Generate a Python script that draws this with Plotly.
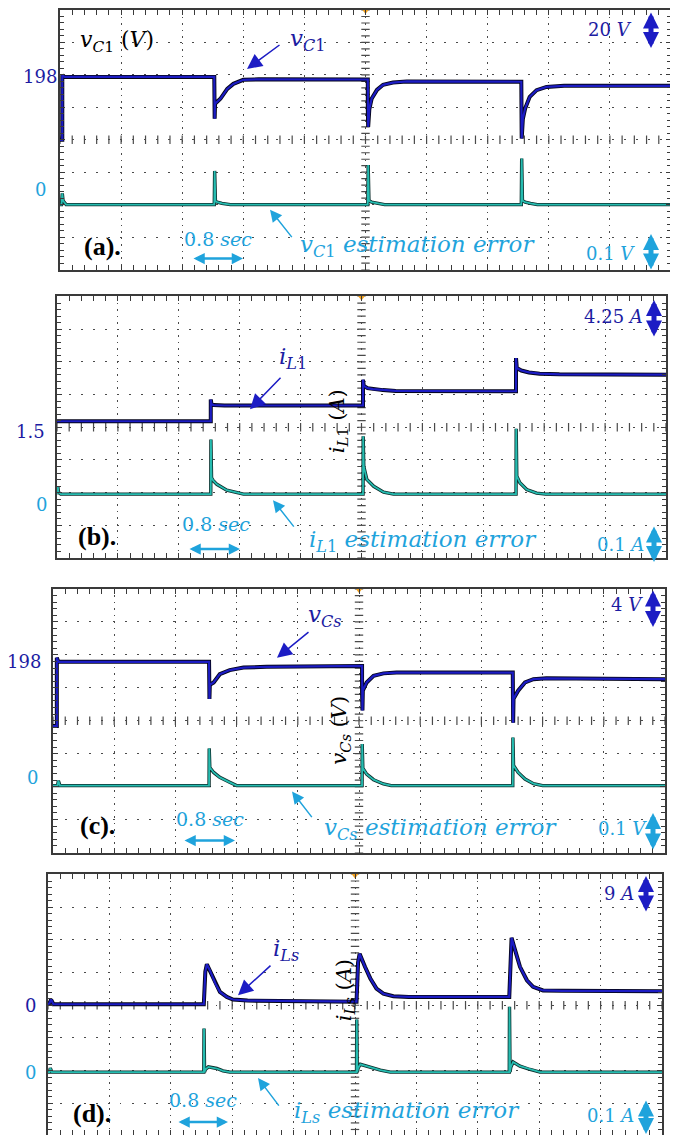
import plotly.graph_objects as go

OFF = 8            # page body margin of the browser
W, H = 678 - OFF, 1135 - OFF

# ---------------- data (time in s) ----------------
# (a) v_C1 [V] and its estimation error [V]
t_vc1 = [0.0, 0.03, 0.03, 0.06, 2.02, 2.02, 2.025, 2.03, 2.10, 2.19, 2.27, 2.40, 2.60,
         4.03, 4.03, 4.035, 4.05, 4.08, 4.15, 4.23, 4.36, 4.54,
         6.04, 6.04, 6.045, 6.06, 6.09, 6.15, 6.24, 6.37, 6.60, 8.0]
vc1 = [159.2, 159.2, 199.0, 198.0, 198.0, 182.6, 172.2, 181.5, 184.5, 190.6, 193.7, 196.2, 196.5,
       196.4, 178.3, 167.2, 178.0, 184.5, 190.0, 193.1, 194.5, 195.2,
       195.0, 172.3, 160.0, 172.0, 178.5, 185.7, 189.8, 191.8, 192.5, 192.5]
t_vc1_err = [0.0, 0.02, 0.03, 0.04, 0.08, 2.02, 2.025, 2.035, 2.06, 2.12, 2.23,
             4.03, 4.035, 4.045, 4.08, 4.15, 4.25, 6.04, 6.045, 6.055, 6.09, 6.16, 6.25, 8.0]
vc1_err = [0.0, 0.0, 0.035, 0.012, 0.0, 0.0, 0.104, 0.01, 0.008, 0.004, 0.0,
           0.0, 0.122, 0.012, 0.008, 0.004, 0.0, 0.0, 0.142, 0.012, 0.008, 0.004, 0.0, 0.0]

# (b) i_L1 [A] and its estimation error [A]
t_il1 = [0.0, 2.02, 2.02, 2.03, 2.06, 2.20, 4.02, 4.02, 4.03, 4.08, 4.15, 4.28, 4.45,
         6.03, 6.03, 6.04, 6.10, 6.20, 6.34, 6.60, 8.0]
il1 = [1.5, 1.5, 4.32, 3.70, 3.60, 3.55, 3.55, 6.91, 6.10, 5.80, 5.68, 5.55, 5.45,
       5.40, 9.71, 8.42, 8.10, 7.85, 7.69, 7.60, 7.56]
t_il1_err = [0.0, 0.01, 0.02, 0.05, 2.02, 2.022, 2.03, 2.05, 2.10, 2.23, 2.36, 2.45,
             4.02, 4.022, 4.03, 4.07, 4.16, 4.29, 4.42,
             6.03, 6.032, 6.04, 6.08, 6.17, 6.30, 6.42, 8.0]
il1_err = [0.0, 0.024, 0.005, 0.0, 0.0, 0.167, 0.05, 0.042, 0.03, 0.012, 0.004, 0.0,
           0.0, 0.177, 0.085, 0.045, 0.024, 0.006, 0.0,
           0.0, 0.200, 0.055, 0.035, 0.014, 0.003, 0.0, 0.0]

# (c) v_Cs [V] and its estimation error [V]
t_vcs = [0.0, 0.05, 0.05, 0.07, 2.04, 2.04, 2.045, 2.05, 2.10, 2.18, 2.31, 2.49, 2.79,
         4.04, 4.04, 4.045, 4.05, 4.10, 4.19, 4.32, 4.49,
         6.01, 6.01, 6.015, 6.02, 6.08, 6.17, 6.28, 6.45, 8.0]
vcs = [190.2, 190.2, 198.5, 198.0, 198.0, 195.3, 193.5, 195.2, 195.5, 196.5, 197.0, 197.3, 197.4,
       197.5, 194.3, 192.1, 194.5, 195.5, 196.3, 196.6, 196.7,
       196.7, 192.9, 190.6, 193.5, 194.5, 195.5, 195.9, 196.0, 195.9]
t_vcs_err = [0.0, 0.06, 0.07, 0.09, 2.04, 2.042, 2.05, 2.10, 2.18, 2.31, 2.40,
             4.04, 4.042, 4.05, 4.10, 4.19, 4.32, 4.42,
             6.01, 6.012, 6.02, 6.08, 6.17, 6.28, 6.40, 8.0]
vcs_err = [0.0, 0.0, 0.015, 0.0, 0.0, 0.113, 0.055, 0.04, 0.025, 0.01, 0.0,
           0.0, 0.126, 0.053, 0.035, 0.018, 0.005, 0.0,
           0.0, 0.146, 0.061, 0.04, 0.02, 0.006, 0.0, 0.0]

# (d) i_Ls [A] and its estimation error [A]
t_ils = [0.0, 0.02, 0.04, 0.07, 2.03, 2.05, 2.07, 2.11, 2.18, 2.24, 2.33, 2.41, 2.60,
         4.02, 4.04, 4.06, 4.13, 4.20, 4.28, 4.37, 4.50, 4.70,
         6.01, 6.03, 6.04, 6.08, 6.15, 6.24, 6.32, 6.45, 6.70, 8.0]
ils = [0.0, 0.3, 1.3, 0.0, 0.0, 9.0, 11.0, 9.3, 5.7, 3.4, 2.0, 1.3, 1.0,
       0.7, 11.5, 13.9, 10.3, 7.1, 4.3, 2.9, 2.2, 2.0,
       2.0, 16.0, 18.3, 15.3, 10.3, 6.6, 4.8, 3.8, 3.7, 3.6]
t_ils_err = [0.0, 0.02, 0.03, 0.05, 2.03, 2.033, 2.04, 2.05, 2.09, 2.20, 2.28, 2.37,
             4.02, 4.023, 4.03, 4.04, 4.07, 4.20, 4.33, 4.46,
             6.01, 6.013, 6.02, 6.03, 6.06, 6.15, 6.28, 6.41, 8.0]
ils_err = [0.0, 0.0, 0.012, 0.0, 0.0, 0.133, 0.0, 0.008, 0.016, 0.011, 0.004, 0.0,
           0.0, 0.161, 0.0, 0.012, 0.024, 0.014, 0.006, 0.0,
           0.0, 0.200, 0.0, 0.015, 0.031, 0.018, 0.008, 0.0, 0.0]

# ---------------- styling ----------------
NAVY = '#1c1cc4'
NAVY_TXT = '#1c1ca2'
TEAL = '#25bcb0'
LBLUE = '#1fa3dc'
FRAME = '#3a3a3a'
GRID = '#4a4a4a'
SERIF = 'DejaVu Serif'
TIMES = 'Liberation Serif'

T_DIV = 0.8  # s per division

panels = [
    dict(frame=(60, 671, 8, 268, 268), ref=(198, 75), per=20, eref=203, eper=0.1,
         t=t_vc1, y=vc1, te=t_vc1_err, ye=vc1_err),
    dict(frame=(57, 666, 295, 557, 557), ref=(1.5, 420), per=4.25, eref=493, eper=0.1,
         t=t_il1, y=il1, te=t_il1_err, ye=il1_err),
    dict(frame=(53, 665, 588, 852, 852), ref=(198, 661), per=4, eref=785, eper=0.1,
         t=t_vcs, y=vcs, te=t_vcs_err, ye=vcs_err),
    dict(frame=(48, 662, 874, 1136, 1135), ref=(0, 1004), per=9, eref=1072, eper=0.1,
         t=t_ils, y=ils, te=t_ils_err, ye=ils_err),
]


def fx(px):
    return (px - OFF) / W


def fy(py):
    return 1 - (py - OFF) / H


fig = go.Figure()
layout = dict(width=W, height=H, margin=dict(l=0, r=0, t=0, b=0),
              paper_bgcolor='white', plot_bgcolor='white', showlegend=False)


def rng(ref_val, ref_px, per, div_px, top_px, bot_px):
    top = ref_val + (ref_px - top_px) / div_px * per
    bot = ref_val - (bot_px - ref_px) / div_px * per
    return bot, top


for i, p in enumerate(panels):
    x0, x1, ytop, ybot_nom, ybot = p['frame']
    div_px = (ybot_nom - ytop) / 8.0
    xid = 'x' if i == 0 else 'x%d' % (i + 1)
    ynav = 'y' if i == 0 else 'y%d' % (2 * i + 1)
    yerr = 'y%d' % (2 * i + 2)
    xkey = 'xaxis' if i == 0 else 'xaxis%d' % (i + 1)
    ynkey = 'yaxis' if i == 0 else 'yaxis%d' % (2 * i + 1)
    yekey = 'yaxis%d' % (2 * i + 2)

    nb, nt = rng(p['ref'][0], p['ref'][1], p['per'], div_px, ytop, ybot)
    eb, et = rng(0.0, p['eref'], p['eper'], div_px, ytop, ybot)

    layout[xkey] = dict(domain=[max(0, fx(x0)), min(1, fx(x1))], range=[0, 10 * T_DIV], anchor=ynav,
                        tick0=0, dtick=T_DIV, showgrid=True, gridcolor=GRID, gridwidth=1,
                        griddash='1.5px,5px', showticklabels=False, ticks='inside',
                        ticklen=5, tickcolor=FRAME, tickwidth=1,
                        minor=dict(dtick=T_DIV / 5, tick0=0, ticks='inside', ticklen=4,
                                   tickcolor=FRAME, tickwidth=1, showgrid=False),
                        showline=True, linecolor=FRAME, linewidth=1.5, mirror='allticks',
                        zeroline=False, fixedrange=True)
    layout[ynkey] = dict(domain=[max(0, fy(ybot)), min(1, fy(ytop))], range=[nb, nt], anchor=xid,
                         tick0=nt, dtick=p['per'], showgrid=True, gridcolor=GRID, gridwidth=1,
                         griddash='1.5px,10.5px', showticklabels=False, ticks='inside',
                         ticklen=5, tickcolor=FRAME, tickwidth=1,
                         minor=dict(dtick=p['per'] / 5, tick0=nt, ticks='inside', ticklen=4,
                                    tickcolor=FRAME, tickwidth=1, showgrid=False),
                         showline=True, linecolor=FRAME, linewidth=1.5, mirror='allticks',
                         zeroline=False, fixedrange=True)
    layout[yekey] = dict(overlaying=ynav, anchor=xid, range=[eb, et], visible=False,
                         fixedrange=True)

    # centre graticule crosses
    yc = nt - 4 * p['per']
    cx = [k * T_DIV / 5 for k in range(51)]
    fig.add_trace(go.Scatter(x=cx, y=[yc] * len(cx), xaxis=xid, yaxis=ynav, mode='markers',
                             marker=dict(symbol='line-ns', size=6,
                                         line=dict(width=1.2, color=GRID)),
                             hoverinfo='skip'))
    cy = [nt - k * p['per'] / 5 for k in range(41) if nt - k * p['per'] / 5 >= nb]
    fig.add_trace(go.Scatter(x=[5 * T_DIV] * len(cy), y=cy, xaxis=xid, yaxis=ynav, mode='markers',
                             marker=dict(symbol='line-ew', size=6,
                                         line=dict(width=1.2, color=GRID)),
                             hoverinfo='skip'))

    # error trace (teal with dark outline)
    fig.add_trace(go.Scatter(x=p['te'], y=p['ye'], xaxis=xid, yaxis=yerr, mode='lines',
                             line=dict(color='#0d2e2c', width=3.4), hoverinfo='skip'))
    fig.add_trace(go.Scatter(x=p['te'], y=p['ye'], xaxis=xid, yaxis=yerr, mode='lines',
                             line=dict(color=TEAL, width=1.8)))
    # main trace (navy with black outline)
    fig.add_trace(go.Scatter(x=p['t'], y=p['y'], xaxis=xid, yaxis=ynav, mode='lines',
                             line=dict(color='#05051a', width=4.0), hoverinfo='skip'))
    fig.add_trace(go.Scatter(x=p['t'], y=p['y'], xaxis=xid, yaxis=ynav, mode='lines',
                             line=dict(color=NAVY, width=2.2)))
    # trigger marker
    fig.add_trace(go.Scatter(x=[5 * T_DIV], y=[nt], xaxis=xid, yaxis=ynav, mode='markers',
                             marker=dict(symbol='triangle-down', size=8, color='#f0a020'),
                             cliponaxis=False, hoverinfo='skip'))


def txt(x, y, s, color, size, family=SERIF, angle=0):
    return dict(x=fx(x), y=fy(y), xref='paper', yref='paper', text=s, showarrow=False,
                font=dict(family=family, size=size, color=color), xanchor='center',
                yanchor='middle', textangle=angle)


def arrow(xh, yh, xt, yt, color, width, size, double=False):
    d = dict(x=fx(xh), y=fy(yh), xref='paper', yref='paper', ax=xt - xh, ay=yt - yh,
             text='', showarrow=True, arrowhead=2, arrowsize=size, arrowwidth=width,
             arrowcolor=color, standoff=0, startstandoff=0, arrowside='end')
    if double:
        d.update(arrowside='end+start', startarrowhead=2, startarrowsize=size)
    return d


vC1 = '<i>v</i><sub><i>C</i>1</sub>'
iL1 = '<i>i</i><sub><i>L</i>1</sub>'
vCs = '<i>v</i><sub><i>Cs</i></sub>'
iLs = '<i>i</i><sub><i>Ls</i></sub>'
sec = '0.8 <i>sec</i>'
err = ' <i>estimation error</i>'

VA_W, VA_S = 5, 0.64   # vertical double-arrow width / head size

ann = [
    # (a)
    txt(40, 75, '198', NAVY_TXT, 18), txt(40, 188, '0', LBLUE, 18),
    txt(117, 40, vC1 + ' (<i>V</i>)', 'black', 22),
    txt(308, 38, vC1, NAVY_TXT, 23), arrow(247, 67, 281, 42, NAVY, 1.5, 2.0),
    txt(218, 237, sec, LBLUE, 19), arrow(243, 257, 192, 257, LBLUE, 2.5, 0.9, True),
    txt(102, 245, '<b>(a).</b>', 'black', 26, TIMES),
    arrow(270, 208, 293, 237, LBLUE, 1.5, 1.6),
    txt(417, 244, vC1 + err, LBLUE, 23),
    txt(610, 28, '20 <i>V</i>', NAVY_TXT, 18), arrow(651, 46, 651, 9, NAVY, VA_W, VA_S, True),
    txt(610, 252, '0.1 <i>V</i>', LBLUE, 18), arrow(651, 268, 651, 231, LBLUE, VA_W, VA_S, True),
    # (b)
    txt(30, 430, '1.5', NAVY_TXT, 18), txt(41, 503, '0', LBLUE, 18),
    txt(293, 357, iL1, NAVY_TXT, 23), arrow(250, 408, 282, 375, NAVY, 1.5, 2.0),
    txt(97, 535, '<b>(b).</b>', 'black', 26, TIMES),
    txt(216, 523, sec, LBLUE, 19), arrow(240, 548, 188, 548, LBLUE, 2.5, 0.9, True),
    arrow(273, 499, 295, 527, LBLUE, 1.5, 1.6),
    txt(423, 540, iL1 + err, LBLUE, 23),
    txt(613, 315, '4.25 <i>A</i>', NAVY_TXT, 18), arrow(654, 335, 654, 297, NAVY, VA_W, VA_S, True),
    txt(620, 543, '0.1 <i>A</i>', LBLUE, 18), arrow(654, 561, 654, 524, LBLUE, VA_W, VA_S, True),
    txt(338, 420, iL1 + ' (<i>A</i>)', 'black', 21, angle=-90),
    # (c)
    txt(24, 661, '198', NAVY_TXT, 18), txt(32, 777, '0', LBLUE, 18),
    txt(325, 615, vCs, NAVY_TXT, 23), arrow(277, 657, 310, 630, NAVY, 1.5, 2.0),
    txt(97, 825, '<b>(c).</b>', 'black', 26, TIMES),
    txt(210, 818, sec, LBLUE, 19), arrow(235, 840, 183, 840, LBLUE, 2.5, 0.9, True),
    arrow(292, 791, 313, 818, LBLUE, 1.5, 1.6),
    txt(441, 828, vCs + err, LBLUE, 23),
    txt(627, 604, '4 <i>V</i>', NAVY_TXT, 18), arrow(653, 626, 653, 588, NAVY, VA_W, VA_S, True),
    txt(622, 828, '0.1 <i>V</i>', LBLUE, 18), arrow(653, 849, 653, 811, LBLUE, VA_W, VA_S, True),
    txt(340, 730, vCs + ' (<i>V</i>)', 'black', 21, angle=-90),
    # (d)
    txt(30, 1005, '0', NAVY_TXT, 18), txt(30, 1072, '0', LBLUE, 18),
    txt(286, 950, iLs, NAVY_TXT, 23), arrow(238, 995, 272, 964, NAVY, 1.5, 2.0),
    txt(92, 1113, '<b>(d).</b>', 'black', 26, TIMES),
    txt(203, 1100, sec, LBLUE, 19), arrow(228, 1122, 177, 1122, LBLUE, 2.5, 0.9, True),
    arrow(258, 1078, 280, 1107, LBLUE, 1.5, 1.6),
    txt(407, 1112, iLs + err, LBLUE, 23),
    txt(619, 893, '9 <i>A</i>', NAVY_TXT, 18), arrow(646, 911, 646, 874, NAVY, VA_W, VA_S, True),
    txt(610, 1115, '0.1 <i>A</i>', LBLUE, 18), arrow(646, 1134, 646, 1099, LBLUE, VA_W, VA_S, True),
    txt(345, 990, iLs + ' (<i>A</i>)', 'black', 21, angle=-90),
]
layout['annotations'] = ann

fig.update_layout(**layout)
fig.write_html('out.html')
